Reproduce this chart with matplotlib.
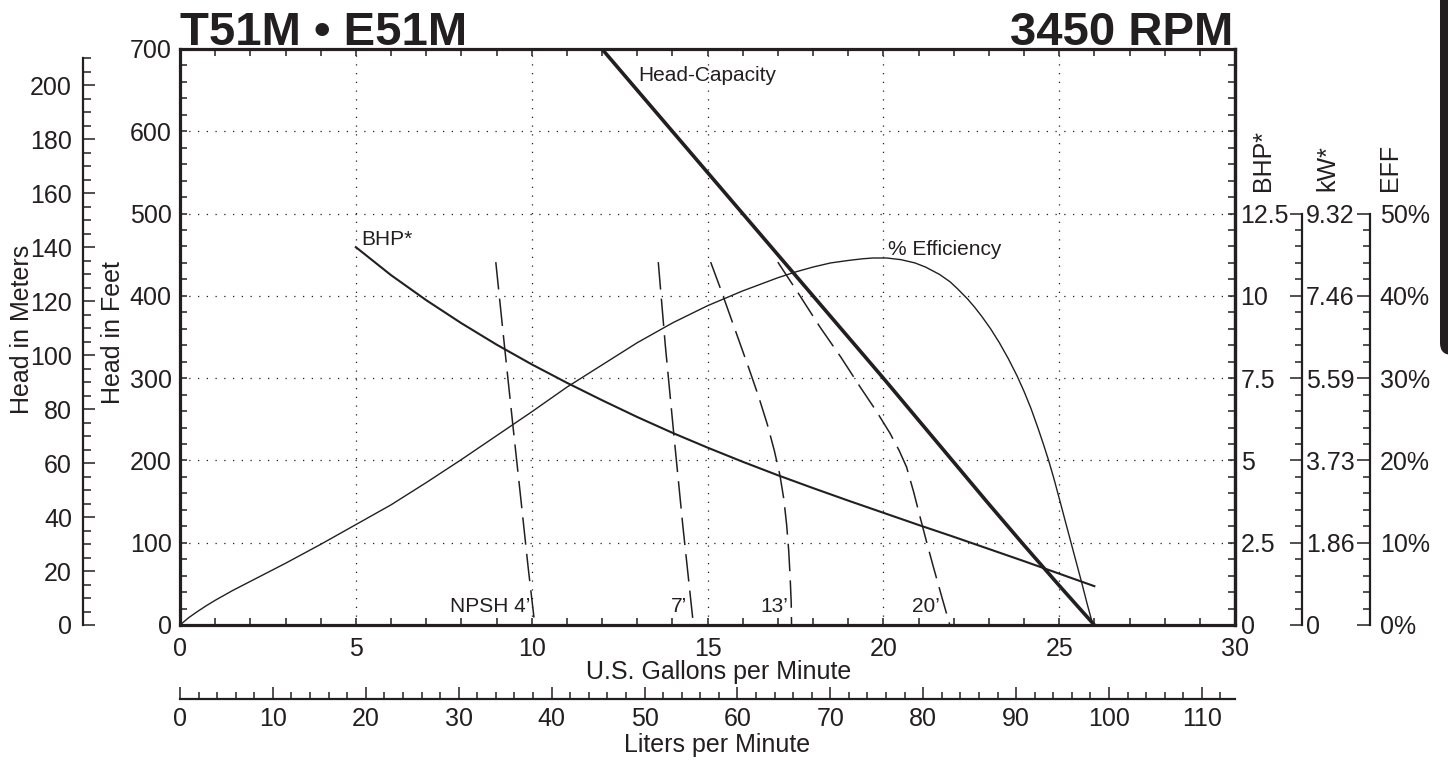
import numpy as np
import matplotlib
matplotlib.use("Agg")
import matplotlib.pyplot as plt
from matplotlib.ticker import MultipleLocator, FixedLocator, FuncFormatter
from matplotlib.patches import FancyBboxPatch
from matplotlib.transforms import IdentityTransform

plt.rcParams['font.family'] = ['Liberation Sans', 'DejaVu Sans']

INK = '#231f20'
W, H = 1448, 761

# ---- data ----
# head-capacity (gpm, feet)
hc_gpm = [12, 13, 14, 15, 16, 17, 18, 19, 20, 21, 22, 23, 24, 25, 26]
hc_ft = [700, 650, 600, 550, 500, 450, 400, 350, 300, 249, 198, 147, 97, 48, 0]

# brake horsepower (gpm, BHP)
bhp_gpm = [5, 6, 7, 8, 9, 10, 11, 12, 13, 14, 15, 16, 17, 18, 19, 20, 21, 22, 23, 24, 25, 26]
bhp_val = [11.48, 10.63, 9.87, 9.17, 8.52, 7.92, 7.36, 6.83, 6.32, 5.84, 5.39, 4.96,
           4.55, 4.16, 3.78, 3.41, 3.04, 2.68, 2.31, 1.94, 1.56, 1.18]

# efficiency (gpm, %)
eff_gpm = [0, 0.25, 0.5, 0.75, 1, 1.5, 2, 3, 4, 5, 6, 7, 8, 9, 10, 11, 12, 13, 14, 15,
           16, 17, 17.5, 18, 18.5, 19, 19.4, 19.7, 20.1, 20.5, 20.9, 21.2, 21.6, 21.9,
           22.1, 22.4, 22.6, 22.8, 23.05, 23.3, 23.55, 23.8, 24.0, 24.2, 24.4, 24.55,
           24.7, 24.85, 25.02, 25.15, 25.3, 25.5, 25.65, 25.8, 25.96]
eff_pct = [0, 0.9, 1.65, 2.35, 3.0, 4.2, 5.3, 7.5, 9.8, 12.2, 14.6, 17.3, 20.1, 23.0,
           25.9, 28.9, 31.6, 34.3, 36.7, 38.8, 40.6, 42.2, 42.9, 43.5, 44.0, 44.3,
           44.5, 44.6, 44.6, 44.4, 44.0, 43.5, 42.6, 41.7, 40.9, 39.6, 38.6, 37.5,
           36.0, 34.3, 32.4, 30.3, 28.4, 26.3, 23.9, 22.0, 20.0, 17.8, 15.1, 13.0,
           10.6, 7.4, 5.0, 2.5, 0]

# NPSH curves (gpm, feet)
npsh_labels = ["NPSH 4\u2019", "7\u2019", "13\u2019", "20\u2019"]
npsh_gpm = [
    [8.98, 9.2, 9.46, 9.7, 9.9, 10.09],
    [13.6, 13.8, 14.03, 14.3, 14.6],
    [15.09, 15.35, 15.6, 15.9, 16.2, 16.45, 16.7, 16.9, 17.06, 17.17, 17.25, 17.31,
     17.35, 17.38, 17.39],
    [17.0, 17.6, 18.2, 18.8, 19.33, 19.8, 20.19, 20.45, 20.66, 20.86, 21.04, 21.23,
     21.42, 21.65, 21.89],
]
npsh_ft = [
    [441, 350, 245, 150, 70, 0],
    [441, 340, 237, 120, 0],
    [441, 411, 381, 345, 309, 278, 244, 212, 182, 153, 122, 90, 58, 28, 0],
    [441, 402, 362, 325, 290, 260, 233, 212, 192, 162, 132, 101, 71, 36, 0],
]
npsh_label_x = [9.95, 14.42, 17.29, 21.61]

bhp_ticks = [0, 2.5, 5, 7.5, 10, 12.5]
eff_ticks = [0, 10, 20, 30, 40, 50]


fig = plt.figure(figsize=(W / 100, H / 100), dpi=100)
fig.patch.set_facecolor('white')


def px_axes(x0, y0, x1, y1):
    return fig.add_axes([x0 / W, 1 - y1 / H, (x1 - x0) / W, (y1 - y0) / H])


def only_spine(a, side, lw):
    for s in a.spines:
        a.spines[s].set_visible(s == side)
    a.spines[side].set_linewidth(lw)
    a.spines[side].set_color(INK)
    a.patch.set_alpha(0)


# main axes (feet / gpm)
ax = px_axes(180, 49, 1235, 625)
ax.set_xlim(0, 30)
ax.set_ylim(0, 700)
ax.xaxis.set_major_locator(MultipleLocator(5))
ax.xaxis.set_minor_locator(MultipleLocator(1))
ax.yaxis.set_major_locator(MultipleLocator(100))
ax.yaxis.set_minor_locator(MultipleLocator(20))
ax.tick_params(which='both', direction='in', length=5, width=1.1, colors=INK,
               top=True, bottom=True, left=True, right=False, labelsize=18)
ax.tick_params(axis='x', pad=9)
ax.tick_params(axis='y', pad=6)
ax.grid(True, which='major', linestyle=(0, (1, 6)), linewidth=0.9, color=INK)
for s in ax.spines.values():
    s.set_linewidth(2.3)
    s.set_color(INK)

# right spine: BHP labels
ax2 = ax.twinx()
ax2.set_ylim(0, 17.5)
ax2.yaxis.set_major_locator(FixedLocator(bhp_ticks))
ax2.yaxis.set_minor_locator(MultipleLocator(0.5))
ax2.yaxis.set_major_formatter(FuncFormatter(lambda v, p: '%g' % v))
ax2.tick_params(which='both', direction='in', length=5, width=1.1, colors=INK,
                labelsize=18, pad=4)
only_spine(ax2, 'right', 2.3)

# efficiency curve on its own scale
ax3 = ax.twinx()
ax3.set_ylim(0, 70)
ax3.set_yticks([])
only_spine(ax3, 'right', 0)

ax.plot(hc_gpm, hc_ft, color=INK, lw=2.6, solid_capstyle='butt', zorder=5)
ax2.plot(bhp_gpm, bhp_val, color=INK, lw=1.5, zorder=5)
ax3.plot(eff_gpm, eff_pct, color=INK, lw=1.0, zorder=5)
for gx, gy in zip(npsh_gpm, npsh_ft):
    ax.plot(gx, gy, color=INK, lw=1.1, linestyle=(0, (18, 6)), zorder=4)

for lab, lx in zip(npsh_labels, npsh_label_x):
    ax.text(lx, 16, lab, ha='right', va='baseline', fontsize=15, color=INK)
ax.text(5.15, 462, "BHP*", ha='left', va='baseline', fontsize=15, color=INK)
ax.text(13.02, 661, "Head-Capacity", ha='left', va='baseline', fontsize=15, color=INK)
ax.text(20.13, 450, "% Efficiency", ha='left', va='baseline', fontsize=15, color=INK)

# head in meters
axm = px_axes(83, 49, 100, 625)
axm.set_ylim(0, 700 * 0.3048)
axm.set_xticks([])
only_spine(axm, 'left', 1.6)
axm.spines['left'].set_bounds(0, 210)
axm.yaxis.set_major_locator(MultipleLocator(20))
axm.yaxis.set_minor_locator(MultipleLocator(5))
axm.tick_params(which='major', direction='in', length=8.6, width=1.1, colors=INK,
                labelsize=18, pad=8)
axm.tick_params(which='minor', direction='in', length=5.8, width=1.1, colors=INK)

# liters per minute
axl = px_axes(180, 689, 1235, 699)
axl.set_xlim(0, 30 * 3.78541)
axl.set_yticks([])
only_spine(axl, 'bottom', 1.6)
axl.xaxis.set_major_locator(MultipleLocator(10))
axl.xaxis.set_minor_locator(MultipleLocator(2))
axl.tick_params(which='major', direction='in', length=8.6, width=1.1, colors=INK,
                labelsize=18, pad=6)
axl.tick_params(which='minor', direction='in', length=5, width=1.1, colors=INK)

# kW scale
axk = px_axes(1250, 49, 1302, 625)
axk.set_ylim(0, 17.5)
axk.set_xticks([])
only_spine(axk, 'right', 1.6)
axk.spines['right'].set_bounds(0, 12.5)
axk.yaxis.tick_right()
axk.yaxis.set_major_locator(FixedLocator(bhp_ticks))
axk.yaxis.set_minor_locator(FixedLocator(np.arange(0, 12.51, 0.5)))
axk.yaxis.set_major_formatter(FuncFormatter(lambda v, p: '0' if v == 0 else '%.2f' % (v * 0.7457)))
axk.tick_params(which='major', direction='in', length=8.6, width=1.1, colors=INK,
                labelsize=18, pad=3)
axk.tick_params(which='minor', direction='in', length=5, width=1.1, colors=INK)

# efficiency scale
axe = px_axes(1320, 49, 1370, 625)
axe.set_ylim(0, 70)
axe.set_xticks([])
only_spine(axe, 'right', 1.6)
axe.spines['right'].set_bounds(0, 50)
axe.yaxis.tick_right()
axe.yaxis.set_major_locator(FixedLocator(eff_ticks))
axe.yaxis.set_minor_locator(FixedLocator(np.arange(0, 51, 2)))
axe.yaxis.set_major_formatter(FuncFormatter(lambda v, p: '%d%%' % v))
axe.tick_params(which='major', direction='in', length=9.4, width=1.1, colors=INK,
                labelsize=18, pad=7)
axe.tick_params(which='minor', direction='in', length=5, width=1.1, colors=INK)

# titles and axis names
fig.text(180 / W, 1 - 45 / H, "T51M \u2022 E51M", fontsize=34, fontweight='bold',
         color=INK, ha='left', va='baseline')
fig.text(1233 / W, 1 - 45 / H, "3450 RPM", fontsize=34, fontweight='bold',
         color=INK, ha='right', va='baseline')
fig.text(22 / W, 1 - 329 / H, "Head in Meters", rotation=90, fontsize=18,
         color=INK, ha='center', va='center')
fig.text(113 / W, 1 - 333 / H, "Head in Feet", rotation=90, fontsize=18,
         color=INK, ha='center', va='center')
fig.text(719 / W, 1 - 672 / H, "U.S. Gallons per Minute", fontsize=18,
         color=INK, ha='center', va='center')
fig.text(717 / W, 1 - 745 / H, "Liters per Minute", fontsize=18,
         color=INK, ha='center', va='center')
fig.text(1263 / W, 1 - 191 / H, "BHP*", rotation=90, fontsize=18,
         color=INK, ha='center', va='bottom')
fig.text(1327 / W, 1 - 191 / H, "kW*", rotation=90, fontsize=18,
         color=INK, ha='center', va='bottom')
fig.text(1390 / W, 1 - 191 / H, "EFF", rotation=90, fontsize=18,
         color=INK, ha='center', va='bottom')

# black side tab
tab = FancyBboxPatch((1440, H - 355), 40, 400, boxstyle='round,pad=0,rounding_size=12',
                     transform=IdentityTransform(), facecolor=INK, edgecolor='none')
fig.add_artist(tab)

fig.savefig('out.png', dpi=100)
